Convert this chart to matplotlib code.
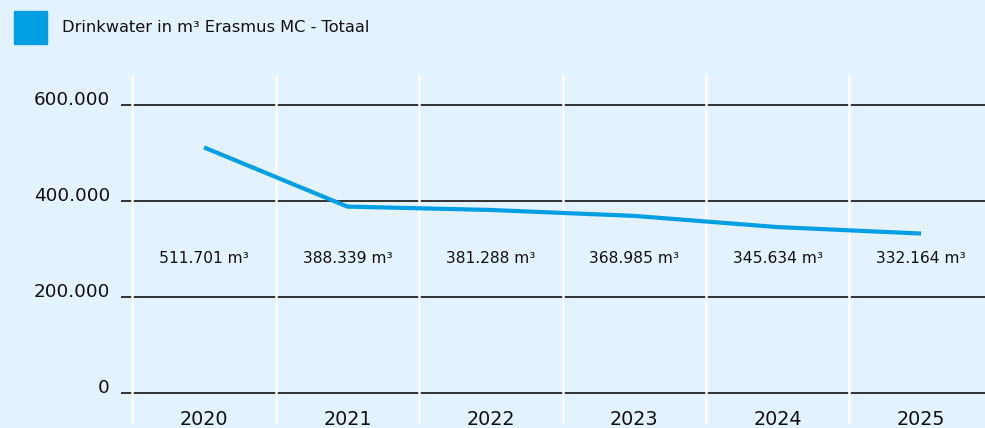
import matplotlib
matplotlib.use('Agg')
import matplotlib.pyplot as plt
from matplotlib.patches import Rectangle

years = ['2020', '2021', '2022', '2023', '2024', '2025']
water = [511701, 388339, 381288, 368985, 345634, 332164]
value_labels = ['511.701 m³', '388.339 m³', '381.288 m³', '368.985 m³', '345.634 m³', '332.164 m³']
y_ticks = [0, 200000, 400000, 600000]
y_tick_labels = ['0', '200.000', '400.000', '600.000']
legend_label = 'Drinkwater in m³ Erasmus MC - Totaal'

BG = '#e4f2fd'
BLUE = '#009fe3'
INK = '#111111'

plt.rcParams['font.family'] = ['DejaVu Sans']

fig = plt.figure(figsize=(9.85, 4.28), dpi=100, facecolor=BG)
W, H = 985, 428
ax = fig.add_axes([121 / W, (H - 424) / H, (985 - 121) / W, (424 - 75) / H])
ax.set_facecolor(BG)

x = list(range(len(years)))
ax.set_xlim(-0.579, 5.446)
ax.set_ylim(-64583, 662500)

# horizontal grid + white column separators
for v in y_ticks:
    ax.axhline(v, color=INK, lw=1.2, zorder=1)
for b in range(len(years)):
    ax.axvline(b - 0.5, color='white', lw=1.8, zorder=2)

ax.plot(x, water, color=BLUE, lw=3, zorder=3, solid_joinstyle='miter', solid_capstyle='butt')

for i, lbl in enumerate(value_labels):
    ax.text(x[i], 281250, lbl, ha='center', va='center', fontsize=11.2, color=INK)
for i, yr in enumerate(years):
    ax.text(x[i], -54167, yr, ha='center', va='center', fontsize=13.8, color=INK)

ax.set_yticks(y_ticks)
ax.set_yticklabels(y_tick_labels, fontsize=13.2, color=INK)
for t in ax.get_yticklabels():
    t.set_va('baseline')
ax.tick_params(axis='y', length=0, pad=8)
ax.set_xticks([])
for s in ax.spines.values():
    s.set_visible(False)

# legend
fig.patches.append(Rectangle((14 / W, (H - 44) / H), 33 / W, 33 / H,
                             transform=fig.transFigure, color=BLUE))
fig.text(62 / W, (H - 27) / H, legend_label, ha='left', va='center', fontsize=11.7, color=INK)

fig.savefig('out.png', dpi=100, facecolor=BG)
